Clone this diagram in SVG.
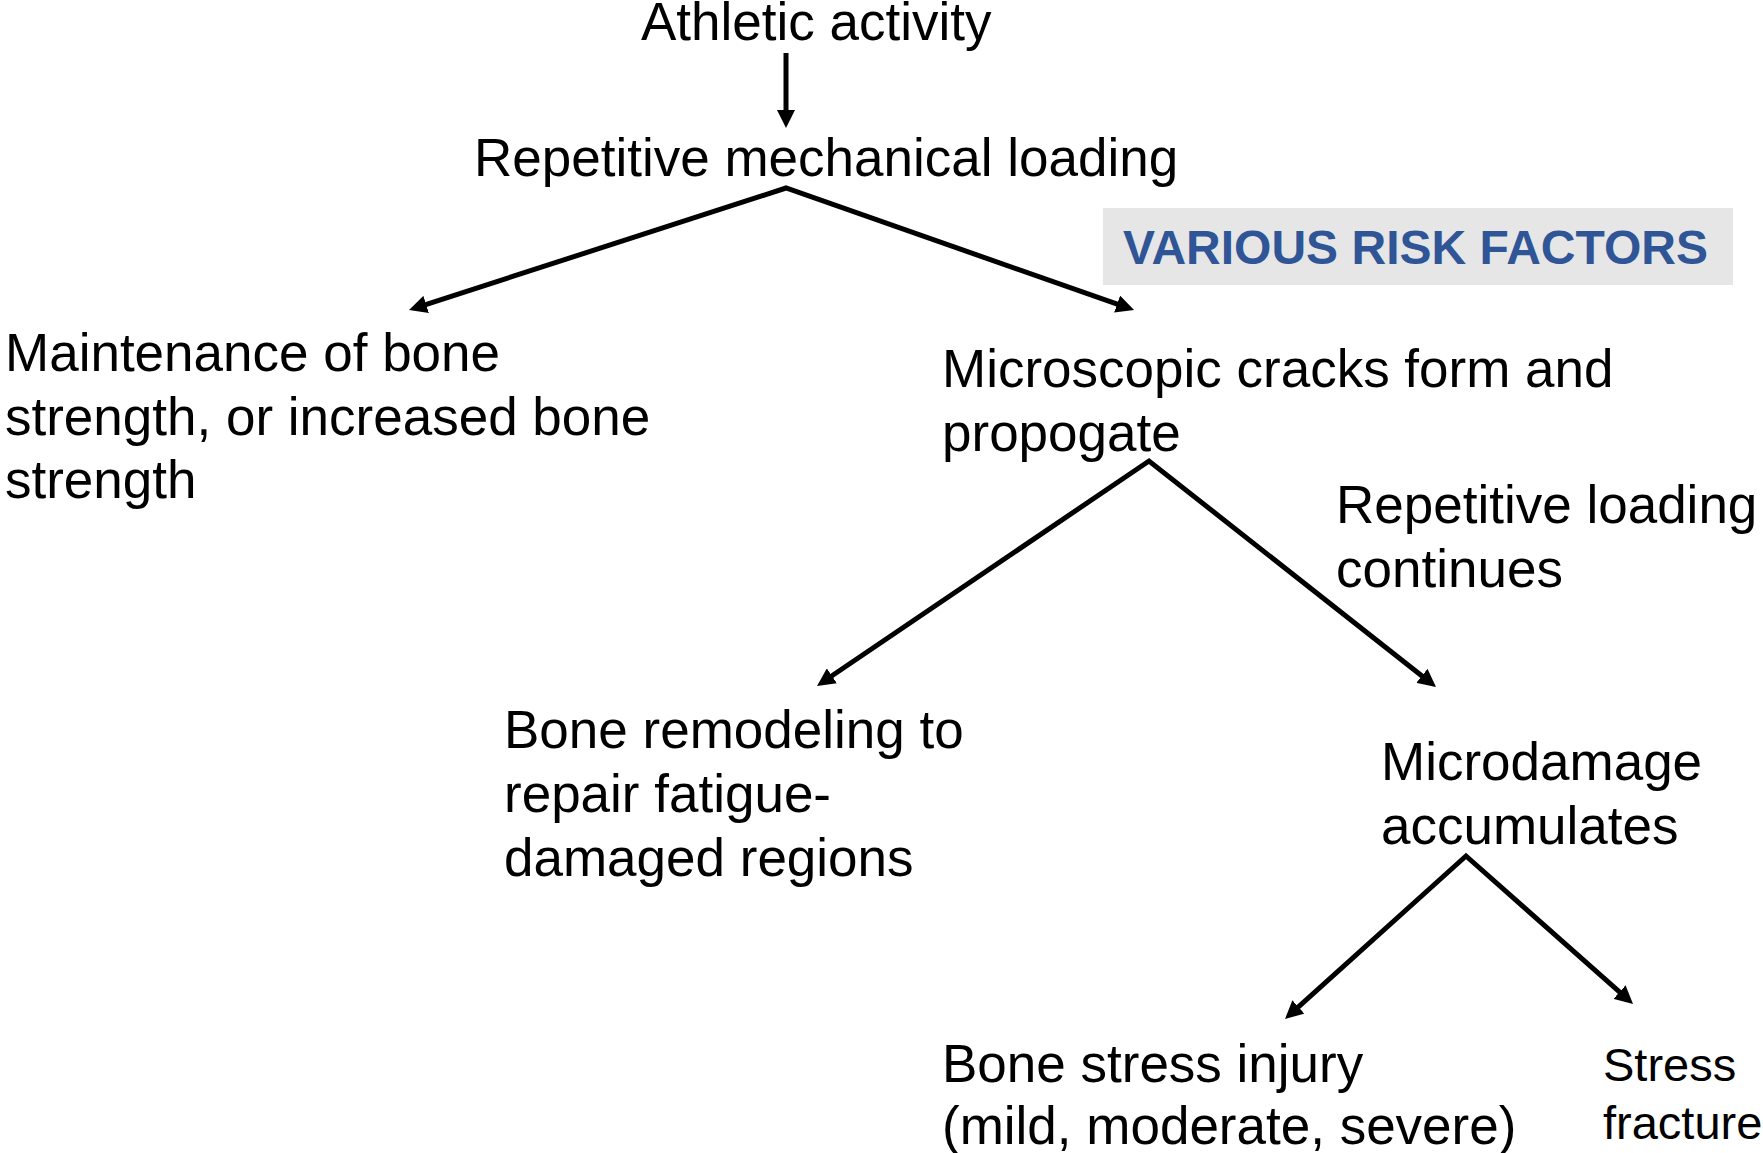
<svg xmlns="http://www.w3.org/2000/svg" width="1763" height="1153" viewBox="0 0 1763 1153">
  <defs>
    <marker id="ah" markerUnits="userSpaceOnUse" markerWidth="18" markerHeight="18" refX="7" refY="9" orient="auto-start-reverse">
      <path d="M0,0 L18,9 L0,18 z" fill="#000"/>
    </marker>
    <style>
      .t { font-family: "Liberation Sans", Arial, sans-serif; font-size: 53px; fill: #000; }
      .s { font-size: 47px; }
      .risk { font-family: "Liberation Sans", Arial, sans-serif; font-size: 48px; font-weight: bold; fill: #2F5597; }
      .c { fill: none; stroke: #000; stroke-width: 5; stroke-linejoin: miter; }
    </style>
  </defs>
  <rect width="1763" height="1153" fill="#fff"/>

  <g id="connectors">
    <path class="c" d="M786,53 L786,117" marker-end="url(#ah)"/>
    <path class="c" d="M419.5,306.6 L786,188 L1123.7,306.4" marker-start="url(#ah)" marker-end="url(#ah)"/>
    <path class="c" d="M826.1,679.8 L1149,461 L1427.4,680.2" marker-start="url(#ah)" marker-end="url(#ah)"/>
    <path class="c" d="M1293.2,1011.6 L1466,856 L1624.8,996.7" marker-start="url(#ah)" marker-end="url(#ah)"/>
  </g>

  <g id="athletic">
    <text class="t" x="641" y="40">Athletic activity</text>
  </g>
  <g id="repetitive-mechanical">
    <text class="t" x="474" y="176">Repetitive mechanical loading</text>
  </g>
  <g id="risk-factors">
    <rect x="1103" y="208" width="630" height="77" fill="#E6E6E6"/>
    <text class="risk" x="1123" y="264">VARIOUS RISK FACTORS</text>
  </g>
  <g id="maintenance">
    <text class="t" x="5" y="371">Maintenance of bone</text>
    <text class="t" x="5" y="435">strength, or increased bone</text>
    <text class="t" x="5" y="498">strength</text>
  </g>
  <g id="microscopic">
    <text class="t" x="942" y="387">Microscopic cracks form and</text>
    <text class="t" x="942" y="451">propogate</text>
  </g>
  <g id="repetitive-continues">
    <text class="t" x="1336" y="523">Repetitive loading</text>
    <text class="t" x="1336" y="587">continues</text>
  </g>
  <g id="remodeling">
    <text class="t" x="504" y="748">Bone remodeling to</text>
    <text class="t" x="504" y="812">repair fatigue-</text>
    <text class="t" x="504" y="876">damaged regions</text>
  </g>
  <g id="microdamage">
    <text class="t" x="1381" y="780">Microdamage</text>
    <text class="t" x="1381" y="844">accumulates</text>
  </g>
  <g id="bone-stress">
    <text class="t" x="942" y="1082">Bone stress injury</text>
    <text class="t" x="942" y="1144">(mild, moderate, severe)</text>
  </g>
  <g id="stress-fracture">
    <text class="t s" x="1603" y="1081">Stress</text>
    <text class="t s" x="1603" y="1139">fracture</text>
  </g>
</svg>
